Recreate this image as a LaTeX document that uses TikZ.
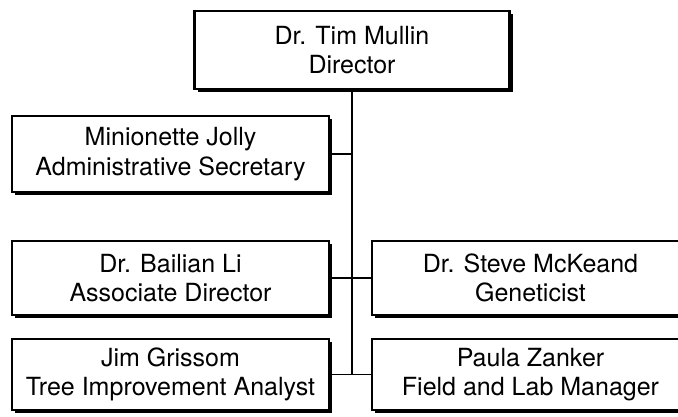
\documentclass[tikz,border=0pt]{standalone}
\usepackage{fontspec}
\setmainfont{TeX Gyre Heros}
\usepackage{tikz}
\usetikzlibrary{shadows}
\tikzset{
	staffbox/.style={draw, line width=2.5pt, fill=white, align=center,
			inner sep=0pt, minimum width=317pt, minimum height=#1,
			font=\fontsize{25}{29.5}\selectfont,
			drop shadow={shadow xshift=3pt, shadow yshift=-3pt, fill=black, opacity=1}}
}
\tikzset{
	orgline/.style={line width=1.2pt}
}
\begin{document}
\begin{tikzpicture}[x=1pt, y=-1pt]

			\useasboundingbox (0,0) rectangle (678,416);
			\clip (0,0) rectangle (678,416);

			\begin{scope}
				\coordinate (pA) at (352,50);
				\coordinate (pB) at (170.5,154);
				\coordinate (pC) at (170.5,278);
				\coordinate (pD) at (530.5,278);
				\coordinate (pE) at (170.5,374.5);
				\coordinate (pF) at (530.5,374.5);
				\coordinate (trunkend) at (352,375);
			\end{scope}

			\begin{scope}
				\draw[orgline] (pA) -- (trunkend);
				\draw[orgline] (pB) -- (pB -| trunkend);
				\draw[orgline] (pC) -- (pD);
				\draw[orgline] (pE) -- (pF);
			\end{scope}

			\begin{scope}
				\node[staffbox=78pt, minimum width=315pt] (director) at (pA) {Dr. Tim Mullin\\Director};
				\node[staffbox=76pt] (secretary) at (pB) {Minionette Jolly\\Administrative Secretary};
				\node[staffbox=74pt] (assocdir) at (pC) {Dr. Bailian Li\\Associate Director};
				\node[staffbox=74pt] (geneticist) at (pD) {Dr. Steve McKeand\\Geneticist};
				\node[staffbox=71pt] (analyst) at (pE) {Jim Grissom\\Tree Improvement Analyst};
				\node[staffbox=71pt] (manager) at (pF) {Paula Zanker\\Field and Lab Manager};
			\end{scope}

		\end{tikzpicture}
\end{document}
